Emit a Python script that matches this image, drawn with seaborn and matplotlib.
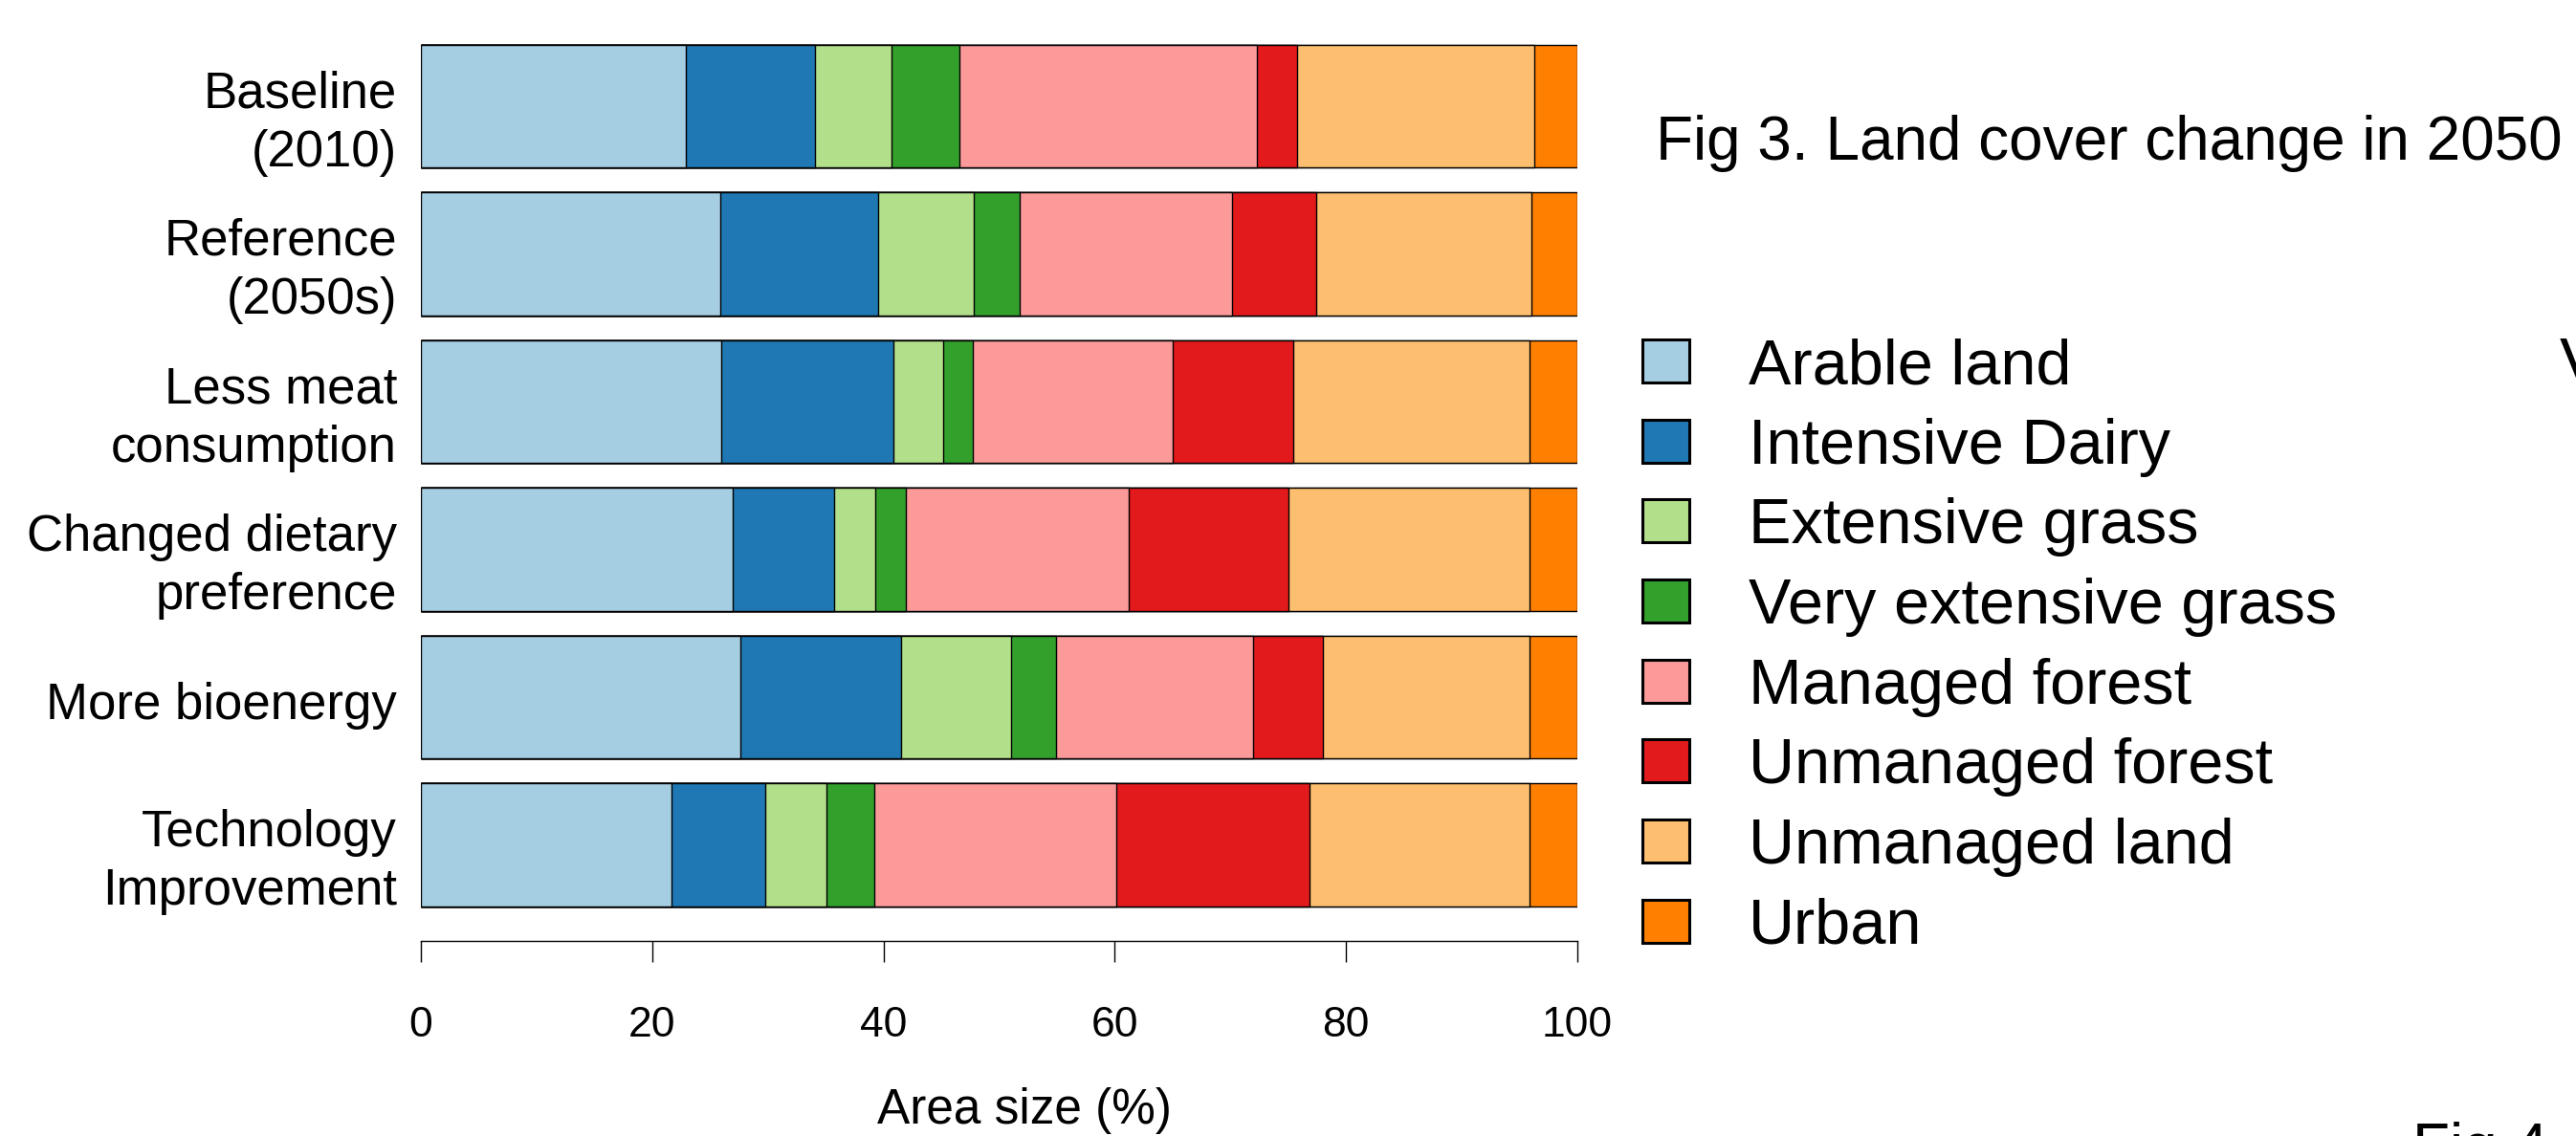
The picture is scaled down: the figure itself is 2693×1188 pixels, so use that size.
import numpy as np
import pandas as pd
import matplotlib
matplotlib.use("Agg")
import matplotlib.pyplot as plt
import matplotlib.transforms as mtransforms
import seaborn as sns
from matplotlib.patches import Patch

# ---------------- data ----------------
scenarios = ["Baseline\n(2010)", "Reference\n(2050s)", "Less meat\nconsumption",
             "Changed dietary\npreference", "More bioenergy", "Technology\nImprovement"]
land_types = ["Arable land", "Intensive Dairy", "Extensive grass", "Very extensive grass",
              "Managed forest", "Unmanaged forest", "Unmanaged land", "Urban"]

arable = [22.9, 25.9, 26.0, 27.0, 27.6, 21.7]
intensive_dairy = [11.2, 13.6, 14.9, 8.7, 13.9, 8.1]
extensive_grass = [6.6, 8.3, 4.3, 3.6, 9.5, 5.3]
very_extensive_grass = [5.9, 4.0, 2.5, 2.6, 3.9, 4.1]
managed_forest = [25.7, 18.3, 17.3, 19.3, 17.1, 20.9]
unmanaged_forest = [3.5, 7.3, 10.4, 13.8, 6.0, 16.7]
unmanaged_land = [20.5, 18.6, 20.5, 20.9, 17.9, 19.1]
urban = [3.7, 4.0, 4.1, 4.1, 4.1, 4.1]

x_ticks = [0, 20, 40, 60, 80, 100]
colors = sns.color_palette("Paired", 8)

series = [arable, intensive_dairy, extensive_grass, very_extensive_grass,
          managed_forest, unmanaged_forest, unmanaged_land, urban]

# long-form table with cumulative stacking positions
rows = []
for lt, vals in zip(land_types, series):
    for sc, v in zip(scenarios, vals):
        rows.append({"scenario": sc, "land": lt, "value": v})
df = pd.DataFrame(rows)
df["land"] = pd.Categorical(df["land"], categories=land_types, ordered=True)
df["scenario"] = pd.Categorical(df["scenario"], categories=scenarios, ordered=True)
df = df.sort_values(["scenario", "land"])
df["cum"] = df.groupby("scenario", observed=True)["value"].cumsum()

# ---------------- figure ----------------
sns.set_theme(style="white")
plt.rcParams["font.family"] = ["Liberation Sans", "DejaVu Sans"]
plt.rcParams["text.color"] = "black"
plt.rcParams["axes.labelcolor"] = "black"
plt.rcParams["xtick.color"] = "black"
plt.rcParams["ytick.color"] = "black"

W, H = 2693, 1188
fig = plt.figure(figsize=(W / 100, H / 100), dpi=100)
ax_left, ax_right = 440, 1649
ax_top, ax_bottom = 10.7, 984
ax = fig.add_axes([ax_left / W, 1 - ax_bottom / H, (ax_right - ax_left) / W, (ax_bottom - ax_top) / H])

# draw stacked bars: widest cumulative first, narrower on top
for lt, col in reversed(list(zip(land_types, colors))):
    sub = df[df["land"] == lt]
    sns.barplot(data=sub, x="cum", y="scenario", order=scenarios, color=col,
                saturation=1, width=0.833, edgecolor="black", linewidth=1.0,
                errorbar=None, orient="h", ax=ax)

ax.set_xlim(0, 100)
ax.set_ylim(5.65, -0.65)
ax.set_xticks(x_ticks)
ax.set_xticklabels([str(t) for t in x_ticks], fontsize=32, color="black")
ax.set_ylabel("")
ax.set_xlabel("Area size (%)", fontsize=37, color="black")
ax.xaxis.set_label_coords(0.522, -0.1962)
ax.xaxis.label.set_va("baseline")

for s in ["left", "top", "right"]:
    ax.spines[s].set_visible(False)
ax.spines["bottom"].set_color("black")
ax.spines["bottom"].set_linewidth(1.0)
ax.tick_params(axis="x", bottom=True, length=15.8, width=1.0, color="black", pad=33,
               direction="out", labelcolor="black")
ax.tick_params(axis="y", left=False, length=0, pad=18, labelsize=38, labelcolor="black")
for lab in ax.get_yticklabels():
    lab.set_va("center")
    lab.set_ha("right")
    lab.set_multialignment("right")
    lab.set_linespacing(1.3)
    lab.set_color("black")
    dy = -18.0 if "\n" in lab.get_text() else -8.6
    lab.set_transform(lab.get_transform() +
                      mtransforms.ScaledTranslation(0, dy / 100, fig.dpi_scale_trans))

# title
fig.text(1731 / W, 1 - 167 / H, "Fig 3. Land cover change in 2050", fontsize=46,
         ha="left", va="baseline", color="black")

# legend
handles = [Patch(facecolor=c, edgecolor="black", linewidth=2.2, label=l)
           for l, c in zip(land_types, colors)]
fig.legend(handles=handles, loc="upper left", bbox_to_anchor=(1717 / W, 1 - 353 / H),
           frameon=False, fontsize=48, handlelength=0.73, handleheight=0.66,
           handletextpad=0.93, labelspacing=0.325, borderaxespad=0, borderpad=0,
           labelcolor="black")

# cropped fragments visible at the edges of the reference
fig.text(2676 / W, 1 - 401 / H, "V", fontsize=49, ha="left", va="baseline", color="black")
fig.text(2522 / W, 1 - 1220 / H, "Fig 4", fontsize=46, ha="left", va="baseline", color="black")

fig.savefig("out.png", dpi=100)
